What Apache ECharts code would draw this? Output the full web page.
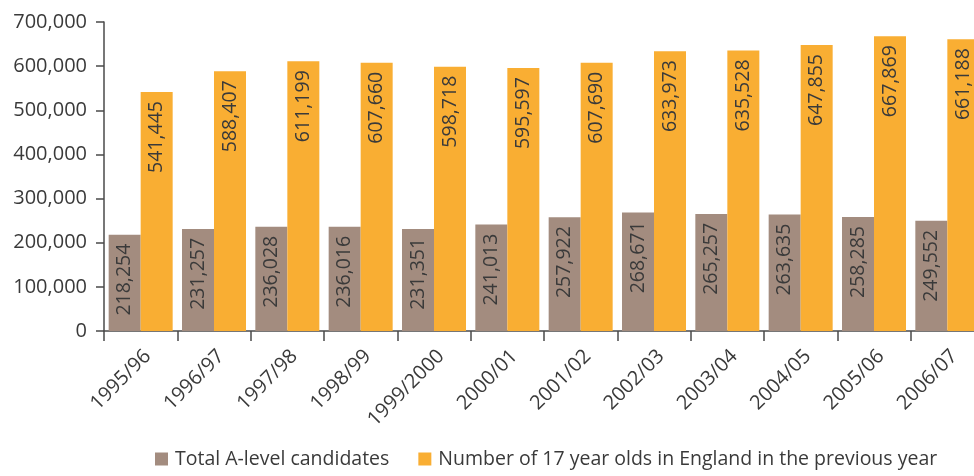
<!DOCTYPE html>
<html>
<head>
<meta charset="utf-8">
<style>
  html, body { margin: 0; padding: 0; background: #ffffff; }
  #chart { width: 974px; height: 476px; }
</style>
<script src="https://cdn.jsdelivr.net/npm/echarts@6/dist/echarts.min.js"></script>
</head>
<body>
<div id="chart"></div>
<script>
// Academic years on the category axis
const years = ['1995/96', '1996/97', '1997/98', '1998/99', '1999/2000', '2000/01',
  '2001/02', '2002/03', '2003/04', '2004/05', '2005/06', '2006/07'];

// Total A-level candidates per year
const candidates = [218254, 231257, 236028, 236016, 231351, 241013,
  257922, 268671, 265257, 263635, 258285, 249552];

// Number of 17 year olds in England in the previous year
const seventeenYearOlds = [541445, 588407, 611199, 607660, 598718, 595597,
  607690, 633973, 635528, 647855, 667869, 661188];

const seriesNames = ['Total A-level candidates', 'Number of 17 year olds in England in the previous year'];

const FONT = '"Open Sans", "Noto Sans", sans-serif';
const TEXT = '#3a3a3a';
const AXIS = '#4a4a4a';

const fmt = v => v.toLocaleString('en-GB');

const barLabel = {
  show: true,
  position: 'insideTop',
  rotate: 90,
  align: 'right',
  verticalAlign: 'middle',
  distance: 9,
  color: TEXT,
  fontFamily: FONT,
  fontSize: 19.5,
  formatter: p => fmt(p.value)
};

const chart = echarts.init(document.getElementById('chart'), null, { renderer: 'canvas' });

chart.setOption({
  animation: false,
  backgroundColor: '#ffffff',
  textStyle: { fontFamily: FONT },
  // plot area runs slightly past the right edge of the canvas
  grid: { left: 104, width: 880, top: 22, height: 309, containLabel: false, outerBoundsMode: 'none' },
  legend: {
    left: 150,
    bottom: 2,
    itemWidth: 13,
    itemHeight: 13,
    itemGap: 29,
    icon: 'rect',
    textStyle: { color: TEXT, fontSize: 19.5, fontFamily: FONT, padding: [0, 0, 0, 2] },
    data: seriesNames
  },
  xAxis: {
    type: 'category',
    data: years,
    axisLine: { lineStyle: { color: AXIS, width: 1.5 } },
    axisTick: { show: true, length: 10, alignWithLabel: false, lineStyle: { color: AXIS, width: 1.5 } },
    axisLabel: {
      interval: 0,
      rotate: 45,
      margin: 15,
      verticalAlign: 'top',
      color: TEXT,
      fontSize: 20,
      fontFamily: FONT
    }
  },
  yAxis: {
    type: 'value',
    min: 0,
    max: 700000,
    interval: 100000,
    splitLine: { show: false },
    axisLine: { show: true, lineStyle: { color: AXIS, width: 1.5 } },
    axisTick: { show: true, length: 8, lineStyle: { color: AXIS, width: 1.5 } },
    axisLabel: {
      margin: 17,
      color: TEXT,
      fontSize: 20,
      fontFamily: FONT,
      formatter: v => fmt(v)
    }
  },
  series: [
    {
      name: seriesNames[0],
      type: 'bar',
      data: candidates,
      barWidth: 32,
      barGap: '0%',
      itemStyle: { color: '#a38c7f' },
      label: barLabel
    },
    {
      name: seriesNames[1],
      type: 'bar',
      data: seventeenYearOlds,
      barWidth: 32,
      barGap: '0%',
      itemStyle: { color: '#f9ae33' },
      label: barLabel
    }
  ]
});
</script>
</body>
</html>
